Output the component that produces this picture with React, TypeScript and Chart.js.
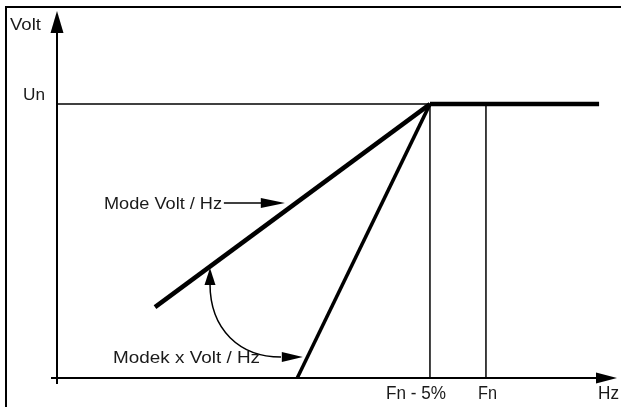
import React, { useEffect, useRef } from "react";
import { Chart, registerables } from "chart.js";

Chart.register(...registerables);

// ---- data (schematic units: x 0..100, Un = 100) ----
const xTickLabels = ["Fn - 5%", "Fn", "Hz"];
const yTickLabels = ["Volt", "Un"];
const curveLabels = ["Mode Volt / Hz", "Modek x Volt / Hz"];
const un = 100;
const fnMinus5 = 66.6;
const fn = 76.6;
const plateauEnd = 96.8;
const modeVoltHz = [
  { x: 17.5, y: 25.9 },
  { x: fnMinus5, y: un },
];
const modekVoltHz = [
  { x: 42.9, y: 0 },
  { x: fnMinus5, y: un },
];
const plateau = [
  { x: fnMinus5, y: un },
  { x: plateauEnd, y: un },
];
const unRef = [
  { x: 0, y: un },
  { x: fnMinus5, y: un },
];
const fnMinus5Ref = [
  { x: fnMinus5, y: 0 },
  { x: fnMinus5, y: un },
];
const fnRef = [
  { x: fn, y: 0 },
  { x: fn, y: un },
];

const FONT = '"Liberation Sans", Arial, Helvetica, sans-serif';

function drawText(ctx: CanvasRenderingContext2D, text: string, x: number, y: number, size: number, width: number) {
  ctx.font = `${size}px ${FONT}`;
  const w = ctx.measureText(text).width;
  ctx.save();
  ctx.translate(x, y);
  ctx.scale(width / w, 1);
  ctx.textBaseline = "alphabetic";
  ctx.textAlign = "left";
  ctx.fillText(text, 0, 0);
  ctx.restore();
}

const decorPlugin = {
  id: "decor",
  afterDatasetsDraw(chart: any) {
    const ctx: CanvasRenderingContext2D = chart.ctx;
    const xs = chart.scales.x;
    const ys = chart.scales.y;
    const X = (v: number) => xs.getPixelForValue(v);
    const Y = (v: number) => ys.getPixelForValue(v);
    const area = chart.chartArea;
    ctx.save();
    ctx.strokeStyle = "#000";
    ctx.fillStyle = "#000";

    // frame
    ctx.lineWidth = 2;
    ctx.beginPath();
    ctx.moveTo(6, 420);
    ctx.lineTo(6, 7);
    ctx.lineTo(640, 7);
    ctx.stroke();

    // axes
    const x0 = X(0);
    const y0 = Y(0);
    ctx.lineWidth = 2;
    ctx.beginPath();
    ctx.moveTo(x0, y0 + 6);
    ctx.lineTo(x0, area.top + 20);
    ctx.moveTo(x0 - 6, y0);
    ctx.lineTo(area.right - 18, y0);
    ctx.stroke();
    // y arrow head
    ctx.beginPath();
    ctx.moveTo(x0, area.top);
    ctx.lineTo(x0 - 6.5, area.top + 22);
    ctx.lineTo(x0 + 6.5, area.top + 22);
    ctx.closePath();
    ctx.fill();
    // x arrow head
    ctx.beginPath();
    ctx.moveTo(area.right, y0);
    ctx.lineTo(area.right - 21, y0 - 5.5);
    ctx.lineTo(area.right - 21, y0 + 5.5);
    ctx.closePath();
    ctx.fill();

    // straight arrow to Mode Volt / Hz line
    const ay = Y(63.9);
    ctx.lineWidth = 1.5;
    ctx.beginPath();
    ctx.moveTo(X(29.8), ay);
    ctx.lineTo(X(37), ay);
    ctx.stroke();
    ctx.beginPath();
    ctx.moveTo(X(40.7), ay);
    ctx.lineTo(X(36.4), ay - 5);
    ctx.lineTo(X(36.4), ay + 5);
    ctx.closePath();
    ctx.fill();

    // curved arrow between the two lines
    ctx.lineWidth = 1.5;
    ctx.beginPath();
    ctx.moveTo(X(27.32), Y(34.5));
    ctx.bezierCurveTo(X(27.32), Y(17.53), X(32.68), Y(7.67), X(40.0), Y(7.67));
    ctx.stroke();
    // up head
    ctx.beginPath();
    ctx.moveTo(X(27.32), Y(40.2));
    ctx.lineTo(X(27.32) - 5.5, Y(40.2) + 17);
    ctx.lineTo(X(27.32) + 5.5, Y(40.2) + 17);
    ctx.closePath();
    ctx.fill();
    // right head
    const hy = Y(7.67);
    ctx.beginPath();
    ctx.moveTo(X(43.9), hy);
    ctx.lineTo(X(43.9) - 21, hy - 5);
    ctx.lineTo(X(43.9) - 21, hy + 5);
    ctx.closePath();
    ctx.fill();

    // texts
    ctx.fillStyle = "#1a1a1a";
    drawText(ctx, yTickLabels[0], 10, 30, 16, 31);
    drawText(ctx, yTickLabels[1], 23, Y(un) - 4, 17, 22);
    drawText(ctx, curveLabels[0], 104, ay + 6, 16, 118);
    drawText(ctx, curveLabels[1], 113, hy + 6, 17, 147);
    drawText(ctx, xTickLabels[0], X(fnMinus5) - 44, y0 + 21, 18, 60);
    drawText(ctx, xTickLabels[1], X(fn) - 8, y0 + 21, 18, 19);
    drawText(ctx, xTickLabels[2], area.right - 19, y0 + 21, 18, 21);
    ctx.restore();
  },
};

export default function App() {
  const ref = useRef<HTMLCanvasElement | null>(null);
  useEffect(() => {
    if (!ref.current) return;
    const line = (data: any[], w: number) => ({
      data,
      showLine: true,
      borderColor: "#000",
      backgroundColor: "#000",
      borderWidth: w,
      pointRadius: 0,
      borderCapStyle: "butt" as const,
      fill: false,
    });
    const chart = new Chart(ref.current, {
      type: "scatter",
      data: {
        datasets: [
          line(unRef, 1.5),
          line(fnMinus5Ref, 1.5),
          line(fnRef, 1.5),
          line(plateau, 4.5),
          line(modeVoltHz, 4.5),
          line(modekVoltHz, 3.5),
        ],
      },
      options: {
        animation: false,
        responsive: false,
        layout: { padding: { left: 57, right: 4, top: 11, bottom: 29 } },
        plugins: { legend: { display: false }, tooltip: { enabled: false } },
        scales: {
          x: { type: "linear", min: 0, max: 100, display: false },
          y: { type: "linear", min: 0, max: 134, display: false },
        },
      },
      plugins: [decorPlugin],
    });
    return () => chart.destroy();
  }, []);
  return (
    <div style={{ position: "fixed", left: 0, top: 0, width: 621, height: 407, background: "#fff" }}>
      <canvas ref={ref} width={621} height={407} />
    </div>
  );
}
